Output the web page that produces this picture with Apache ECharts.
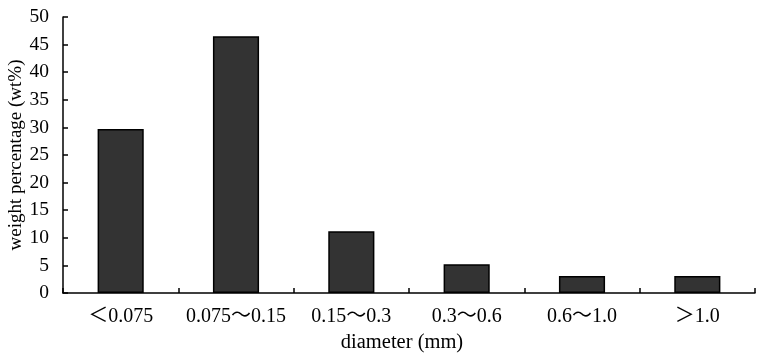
<!DOCTYPE html>
<html>
<head>
<meta charset="utf-8">
<script src="https://cdn.jsdelivr.net/npm/echarts@6/dist/echarts.min.js"></script>
<style>
  html, body { margin: 0; padding: 0; background: #fff; }
  #chart { width: 757px; height: 355px; }
</style>
</head>
<body>
<div id="chart"></div>
<script>
// Particle size distribution
const categories = ['＜0.075', '0.075～0.15', '0.15～0.3', '0.3～0.6', '0.6～1.0', '＞1.0'];
const weightPct = [29.7, 46.5, 11.2, 5.2, 3.1, 3.1];
const yTicks = [0, 5, 10, 15, 20, 25, 30, 35, 40, 45, 50];

const font = '"Liberation Serif", "Times New Roman", "Noto Sans CJK SC", serif';

const chart = echarts.init(document.getElementById('chart'));
chart.setOption({
    animation: false,
    backgroundColor: '#fff',
    grid: { left: 63, right: 2, top: 17, bottom: 62, outerBoundsMode: 'none', containLabel: false },
    xAxis: {
        type: 'category',
        data: categories,
        name: 'diameter (mm)',
        nameLocation: 'middle',
        nameGap: 36,
        nameTextStyle: { fontFamily: font, fontSize: 20.5, color: '#000', padding: [0, 14, 0, 0] },
        axisLine: { lineStyle: { color: '#000', width: 1.5 } },
        axisTick: { show: true, inside: true, length: 5, lineStyle: { color: '#000', width: 1.5 } },
        axisLabel: { fontFamily: font, fontSize: 20, color: '#000', margin: 14, interval: 0 }
    },
    yAxis: {
        type: 'value',
        min: yTicks[0],
        max: yTicks[yTicks.length - 1],
        interval: 5,
        name: 'weight percentage (wt%)',
        nameLocation: 'middle',
        nameGap: 37,
        nameMoveOverlap: false,
        nameTextStyle: { fontFamily: font, fontSize: 19, color: '#000' },
        axisLine: { show: true, lineStyle: { color: '#000', width: 1.5 } },
        axisTick: { show: true, inside: true, length: 5, lineStyle: { color: '#000', width: 1.5 } },
        axisLabel: { fontFamily: font, fontSize: 19.5, color: '#000', margin: 14 },
        splitLine: { show: false }
    },
    series: [{
        type: 'bar',
        data: weightPct,
        barWidth: '40%',
        itemStyle: { color: '#333333', borderColor: '#000', borderWidth: 1.5 }
    }]
});
</script>
</body>
</html>
